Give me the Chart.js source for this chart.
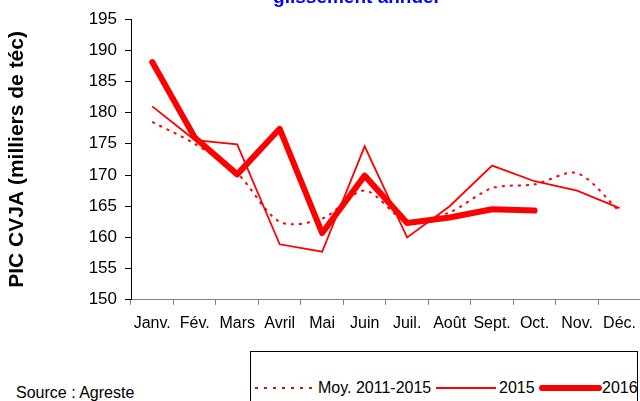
<!DOCTYPE html>
<html><head><meta charset="utf-8">
<script src="https://cdn.jsdelivr.net/npm/chart.js@4/dist/chart.umd.min.js"></script>
<style>
html,body{margin:0;padding:0;width:640px;height:401px;overflow:hidden;background:#fff;font-family:"Liberation Sans",Arial,sans-serif;}
#wrap{position:absolute;left:0;top:0;width:645px;height:342px;}
#title{position:absolute;left:256px;width:200px;text-align:center;top:-13px;color:#0000FF;font-weight:bold;font-size:19px;line-height:19px;white-space:nowrap;}
#source{position:absolute;left:16px;top:384px;font-size:16px;line-height:18px;color:#000;}
#legend{position:absolute;left:250px;top:351px;width:388px;height:60px;border:1px solid #000;box-sizing:border-box;}
.it{position:absolute;top:27px;font-size:16px;color:#000;line-height:18px;white-space:nowrap;}
.ln{position:absolute;}
</style></head>
<body>
<div id="wrap"><canvas id="c"></canvas></div>
<div id="title">glissement annuel</div>
<div id="source">Source : Agreste</div>
<div id="legend">
  <div class="ln" style="left:4px;top:35px;width:60px;height:2px;background:repeating-linear-gradient(to right,#f00 0 3px,transparent 3px 9px);"></div>
  <div class="it" style="left:67px;">Moy. 2011-2015</div>
  <div class="ln" style="left:185px;top:35px;width:60px;height:2px;background:#f00;"></div>
  <div class="it" style="left:248px;">2015</div>
  <div class="ln" style="left:288px;top:33px;width:63px;height:6px;background:#f00;border-radius:3px;"></div>
  <div class="it" style="left:351px;">2016</div>
</div>
<script>
const categories = ["Janv.","Fév.","Mars","Avril","Mai","Juin","Juil.","Août","Sept.","Oct.","Nov.","Déc."];
const moy20112015 = [178.5,175.0,170.3,162.5,163.0,167.5,162.5,164.0,167.9,168.5,170.3,164.2];
const y2015 = [181.0,175.6,174.9,158.9,157.7,174.6,160.0,165.0,171.5,169.0,167.5,164.7];
const y2016 = [188.1,176.0,170.1,177.4,160.7,169.9,162.3,163.2,164.5,164.3,null,null];
const yTicks = [150,155,160,165,170,175,180,185,190,195];

const FONT = '"Liberation Sans", Arial, sans-serif';
new Chart(document.getElementById('c'), {
  type: 'line',
  data: {
    labels: categories,
    datasets: [
      {label:'Moy. 2011-2015', data: moy20112015, borderColor:'#FF0000', borderWidth:2, borderDash:[3,5], tension:0.3, pointRadius:0, fill:false},
      {label:'2015', data: y2015, borderColor:'#FF0000', borderWidth:1.8, tension:0, pointRadius:0, fill:false},
      {label:'2016', data: y2016, borderColor:'#FF0000', borderWidth:6, tension:0, pointRadius:0, fill:false, borderCapStyle:'round', borderJoinStyle:'round', spanGaps:false}
    ]
  },
  options: {
    responsive:true, maintainAspectRatio:false, animation:false,
    layout:{padding:{left:0,right:0,top:19,bottom:0}},
    plugins:{legend:{display:false}, title:{display:false}, tooltip:{enabled:false}},
    scales:{
      x:{
        offset:true,
        grid:{display:true, drawOnChartArea:false, drawTicks:true, tickLength:5, color:'#808080', offset:true},
        border:{display:true, color:'#808080', width:1},
        ticks:{color:'#000', font:{family:FONT, size:16}, padding:9, maxRotation:0, autoSkip:false}
      },
      y:{
        min:150, max:195,
        afterBuildTicks:(s)=>{ s.ticks = yTicks.map(v=>({value:v})); },
        afterFit:(s)=>{ s.width = 131; },
        grid:{display:true, drawOnChartArea:false, drawTicks:true, tickLength:6, color:'#000'},
        border:{display:true, color:'#000', width:1},
        ticks:{color:'#000', font:{family:FONT, size:17}, padding:8},
        title:{display:true, text:'PIC CVJA (milliers de téc)', color:'#000', font:{family:FONT, size:21, weight:'bold'}, padding:{top:5,bottom:0}}
      }
    }
  }
});
</script>
</body></html>
